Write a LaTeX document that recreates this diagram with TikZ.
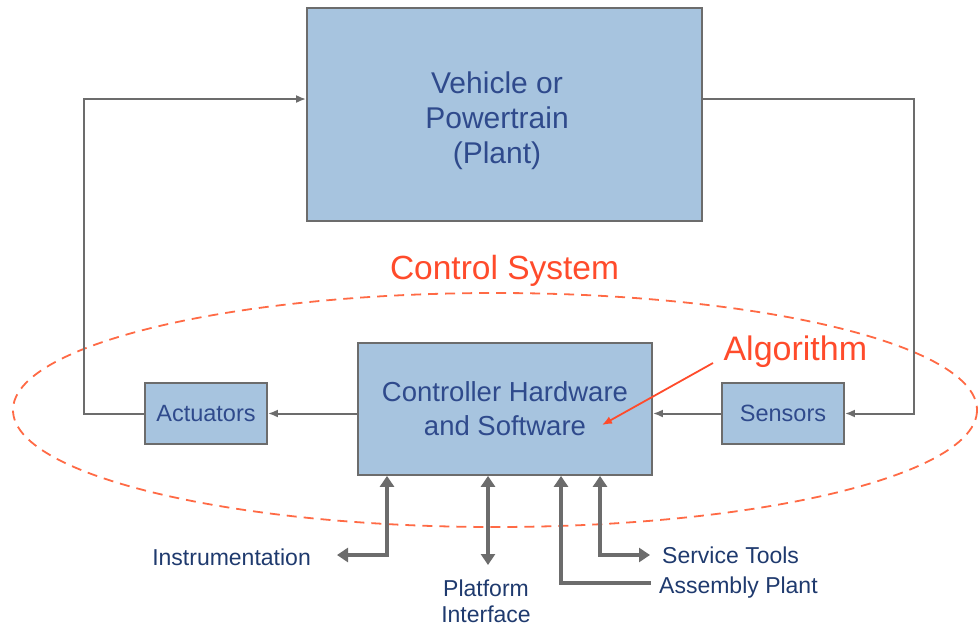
\documentclass[tikz,border=0pt]{standalone}
\usepackage{fontspec}
\setmainfont{Liberation Sans}
\usetikzlibrary{arrows.meta}
\definecolor{boxfill}{HTML}{A7C4DF}
\definecolor{boxline}{HTML}{6C6C6C}
\definecolor{boxtext}{HTML}{2F4A8C}
\definecolor{labeltext}{HTML}{1F3A6E}
\definecolor{ctrlred}{HTML}{FF4B2B}
\definecolor{ringred}{HTML}{FF6A45}
\tikzset{
  block/.style={draw=boxline, line width=1.8pt, fill=boxfill, text=boxtext, align=center, inner sep=0pt},
  blocktext/.style={text=boxtext, align=center, inner sep=0pt},
  link/.style={draw=boxline, line width=2pt, -{Latex[length=10pt,width=8pt]}},
  port/.style={draw=boxline, line width=4pt, {Triangle[length=11pt,width=14pt]}-{Triangle[length=11pt,width=14pt]}},
  portin/.style={draw=boxline, line width=4pt, {Triangle[length=11pt,width=14pt]}-},
  extlabel/.style={text=labeltext, font=\fontsize{23}{26}\selectfont, inner sep=0pt},
}
\begin{document}
\begin{tikzpicture}[x=1pt, y=-1pt]
\useasboundingbox (0,0) rectangle (979,627);

% control system boundary
\draw[ringred, line width=1.8pt, dash pattern=on 10pt off 7pt] (495,410) ellipse [x radius=482, y radius=117];
\node[text=ctrlred, font=\fontsize{33.5}{38}\selectfont] (cs) at (504.5,271) {Control System};

% plant
\node[block, minimum width=395pt, minimum height=213pt] (plant) at (504.5,114.5) {};
\node[blocktext, font=\fontsize{30}{35}\selectfont] (plantlbl) at (497,121) {Vehicle or\\Powertrain\\(Plant)};

% controller and peripherals
\node[block, minimum width=294pt, minimum height=132pt, font=\fontsize{27.5}{34}\selectfont] (ctrl) at (505,409) {Controller Hardware\\and Software};
\node[block, minimum width=122pt, minimum height=61pt, font=\fontsize{23.5}{26}\selectfont] (act) at (206,413.5) {Actuators};
\node[block, minimum width=122pt, minimum height=61pt, font=\fontsize{23.5}{26}\selectfont] (sens) at (783,413.5) {Sensors};

% feedback loop
\draw[link] (act.west) -- (84,413.5) |- (plant.west |- 0,99);
\draw[link] (plant.east |- 0,99) -- (914,99) |- (sens.east);
\draw[link] (ctrl.west |- act) -- (act.east);
\draw[link] (sens.west) -- (ctrl.east |- sens);

% algorithm callout
\node[text=ctrlred, font=\fontsize{34}{38}\selectfont, anchor=west] (alg) at (720,352) {Algorithm};
\coordinate (algtip) at (602,425);
\draw[ctrlred, line width=1.8pt, -{Latex[length=10pt,width=8pt]}] (713,363) -- (algtip);

% external interfaces
\node[extlabel, anchor=east] (instr) at (311,557) {Instrumentation};
\node[extlabel, align=center] (plat) at (486,601) {Platform\\Interface};
\node[extlabel, anchor=west] (serv) at (662,555) {Service Tools};
\node[extlabel, anchor=west] (asm) at (659,588) {Assembly Plant};

\coordinate (instrend) at (337,555);
\coordinate (platend) at (488,565);
\coordinate (asmend) at (651,583);
\coordinate (servend) at (650,555);

\draw[port] (ctrl.south -| 387,0) -- (387,555) -- (instrend);
\draw[port] (ctrl.south -| platend) -- (platend);
\draw[portin] (ctrl.south -| 561,0) -- (561,583) -- (asmend);
\draw[port] (ctrl.south -| 600,0) -- (600,555) -- (servend);
\end{tikzpicture}
\end{document}
